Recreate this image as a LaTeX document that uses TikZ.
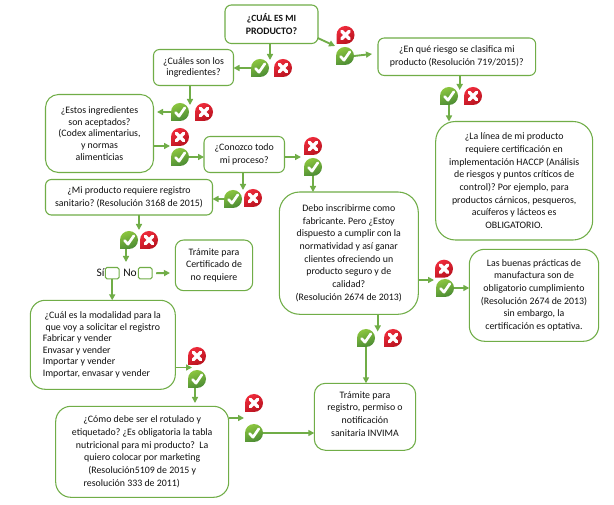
\documentclass[tikz,border=0pt]{standalone}
\usepackage{fontspec}
\setmainfont{Carlito}
\frenchspacing
\usetikzlibrary{arrows.meta,calc}
\definecolor{gline}{HTML}{70AD47}
\definecolor{oklight}{HTML}{8CC63F}
\definecolor{okdark}{HTML}{4A8A34}
\definecolor{nolight}{HTML}{EE2B3B}
\definecolor{nodark}{HTML}{B8131F}
\definecolor{ink}{HTML}{111111}
\tikzset{
  x=0.75pt,y=-0.75pt,
  boxstyle/.style={draw=gline,line width=0.8pt,fill=white,align=center,inner sep=0pt,outer sep=0pt,text=ink,font=\fontsize{7.4}{9.5}\selectfont},
  arr/.style={draw=gline,line width=1.4pt,-{Triangle[length=4.5pt,width=4.5pt]}},
  iconspot/.style={circle,inner sep=0pt,minimum size=13.5pt,outer sep=0pt},
  checkbox/.style={draw=gline,line width=0.8pt,rounded corners=1.2pt,inner sep=0pt,outer sep=0pt,minimum width=10.3pt,minimum height=8.5pt},
  lab/.style={inner sep=0pt,text=ink,font=\fontsize{8.6}{10}\selectfont},
  okpic/.pic={
    \shade[left color=oklight,right color=okdark,shading angle=20] (-9,9) -- (-9,0) arc[start angle=180,end angle=450,radius=9] -- cycle;
    \draw[white,line width=2pt,line cap=round,line join=round] (-4.5,0.5) -- (-1,4.2) -- (4.8,-4.2);
  },
  nopic/.pic={
    \shade[left color=nolight,right color=nodark,shading angle=30] (-9,9) -- (-9,0) arc[start angle=180,end angle=450,radius=9] -- cycle;
    \draw[white,line width=2.6pt,line cap=round] (-3.6,-3.6) -- (3.6,3.6) (3.6,-3.6) -- (-3.6,3.6);
  }
}
\newcommand{\bx}[6]{%
  \pgfmathsetmacro{\bw}{(#4-#2)*0.75}%
  \pgfmathsetmacro{\bh}{(#5-#3)*0.75}%
  \pgfmathsetmacro{\br}{min(\bw,\bh)/6}%
  \node[boxstyle,minimum width=\bw pt,minimum height=\bh pt,rounded corners=\br pt] (#1) at ({(#2+#4)/2},{(#3+#5)/2}) {#6};%
}
\begin{document}
\begin{tikzpicture}
\useasboundingbox[fill=white] (0,0) rectangle (614,505);

\bx{A}{225}{5}{318}{43.5}{\fontsize{7.1}{9.5}\selectfont\textbf{¿CUÁL ES MI}\\\textbf{PRODUCTO?}}
\bx{B}{153.5}{49.5}{233.5}{85.5}{¿Cuáles son los\\[-0.75pt]ingredientes?}
\bx{C}{45.5}{94.5}{153.5}{172.5}{¿Estos ingredientes\\[-0.75pt]son aceptados?\\[-0.75pt](Codex alimentarius,\\[-0.75pt]y normas\\[-0.75pt]alimenticias}
\bx{D}{204}{136.5}{284.5}{172.5}{¿Conozco todo\\[0.3pt]mi proceso?}
\bx{E}{45.5}{179.5}{212.5}{215}{¿Mi producto requiere registro\\[0.3pt]sanitario? (Resolución 3168 de 2015)}
\bx{F}{378}{38}{535.7}{75.5}{¿En qué riesgo se clasifica mi\\[0.3pt]producto (Resolución 719/2015)?}
\bx{G}{435.7}{121.5}{592.7}{240}{¿La línea de mi producto\\requiere certificación en\\implementación HACCP (Análisis\\de riesgos y puntos críticos de\\control)? Por ejemplo, para\\productos cárnicos, pesqueros,\\acuíferos y lácteos es\\OBLIGATORIO.}
\bx{H}{279.3}{192}{418.3}{314.3}{Debo inscribirme como\\fabricante. Pero ¿Estoy\\dispuesto a cumplir con la\\normatividad y así ganar\\clientes ofreciendo un\\producto seguro y de\\calidad?\\(Resolución 2674 de 2013)}
\bx{I}{469.3}{249.3}{598.7}{341.3}{Las buenas prácticas de\\manufactura son de\\obligatorio cumplimiento\\(Resolución 2674 de 2013)\\sin embargo, la\\certificación es optativa.}
\bx{J}{314.3}{383.3}{415.7}{450.3}{Trámite para\\registro, permiso o\\notificación\\sanitaria INVIMA\rule[-4.4pt]{0pt}{0pt}}
\bx{K}{175.3}{240}{252.7}{290.7}{Trámite para\\Certificado de\\no requiere}
\bx{L}{30.3}{300.3}{175.3}{389.3}{\makebox[90pt][c]{¿Cuál es la modalidad para la}\\[-0.85pt]\makebox[90pt][c]{que voy a solicitar el registro}\\[-0.85pt]\makebox[90pt][l]{Fabricar y vender}\\[-0.85pt]\makebox[90pt][l]{Envasar y vender}\\[-0.85pt]\makebox[90pt][l]{Importar y vender}\\[-0.85pt]\makebox[90pt][l]{Importar, envasar y vender}}
\bx{M}{55.7}{406.3}{228.7}{497.3}{¿Cómo debe ser el rotulado y\\etiquetado? ¿Es obligatoria la tabla\\nutricional para mi producto?\ \ La\\quiero colocar por marketing\\(Resolución5109 de 2015 y\\resolución 333 de 2011)\rule{15.75pt}{0pt}}

\node[checkbox] (si) at (112.2,273.2) {};
\node[checkbox] (nob) at (145.2,273.2) {};
\node[lab] (silab) at (100.5,272.5) {Sí};
\node[lab] (nolab) at (130,272.5) {No};

\foreach \n/\x/\y in {ok1/260/68,ok2/180/112,ok3/180/157,ok4/233/199,ok5/129/240,ok6/345/56,ok7/449/96,ok8/313/167,ok9/445/288,ok10/366/338,ok11/197/379,ok12/254/433}{
  \node[iconspot] (\n) at (\x,\y) {};
  \pic at (\n) {okpic};
}
\foreach \n/\x/\y in {no1/283/68,no2/204/112,no3/180/137,no4/253/198,no5/149/240,no6/345.5/35,no7/473/96,no8/313/146,no9/444/268.7,no10/393/338,no11/197/356,no12/254/403}{
  \node[iconspot] (\n) at (\x,\y) {};
  \pic at (\n) {nopic};
}

\coordinate (e1) at (270,60);
\coordinate (e3) at (190,105);
\coordinate (e4) at (157,112);
\coordinate (e5) at (170,146);
\coordinate (e7) at (243,190);
\coordinate (e9) at (139,230);
\coordinate (e10) at (126,262);
\coordinate (e12) at (170,273);
\coordinate (e13) at (192,367.5);
\coordinate (e14) at (195,403);
\coordinate (e15) at (244,418);
\coordinate (e17s) at (317.7,38);
\coordinate (e17) at (335,46);
\coordinate (e18) at (372,54);
\coordinate (e19) at (459.7,90);
\coordinate (e21) at (301,157);
\coordinate (e23) at (434,280);
\coordinate (e25) at (377.7,331.5);

\draw[arr] (e1 |- A.south) -- (e1);
\draw[arr] (ok1.west) -- (ok1.west -| B.east);
\draw[arr] (e3 |- B.south) -- (e3);
\draw[arr] (ok2.west) -- (e4);
\draw[arr] (e5 -| C.east) -- (e5);
\draw[arr] (ok3.east) -- (ok3.east -| D.west);
\draw[arr] (e7 |- D.south) -- (e7);
\draw[arr] (ok4.west) -- (ok4.west -| E.east);
\draw[arr] (e9 |- E.south) -- (e9);
\draw[arr] (e10 |- ok5.south) -- (e10);
\draw[arr] (si.south) -- (si.south |- L.north);
\draw[arr] (nob.east) ++(4,0) -- (e12);
\draw[arr] (e13 -| L.east) -- (e13);
\draw[arr] (e14 |- ok11.south) -- (e14);
\draw[arr] (e15 -| M.east) -- (e15);
\draw[arr] (ok12.east) -- (ok12.east -| J.west);
\draw[arr] (e17s) -- (e17);
\draw[arr] (ok6.east) -- (e18);
\draw[arr] (e19 |- F.south) -- (e19);
\draw[arr] (ok7.south) -- (ok7.south |- G.north);
\draw[arr] (e21 -| D.east) -- (e21);
\draw[arr] (ok8.south) -- (ok8.south |- H.north);
\draw[arr] (e23 -| H.east) -- (e23);
\draw[arr] (ok9.east) -- (ok9.east -| I.west);
\draw[arr] (e25 |- H.south) -- (e25);
\draw[arr] (ok10.south) -- (ok10.south |- J.north);
\end{tikzpicture}
\end{document}
